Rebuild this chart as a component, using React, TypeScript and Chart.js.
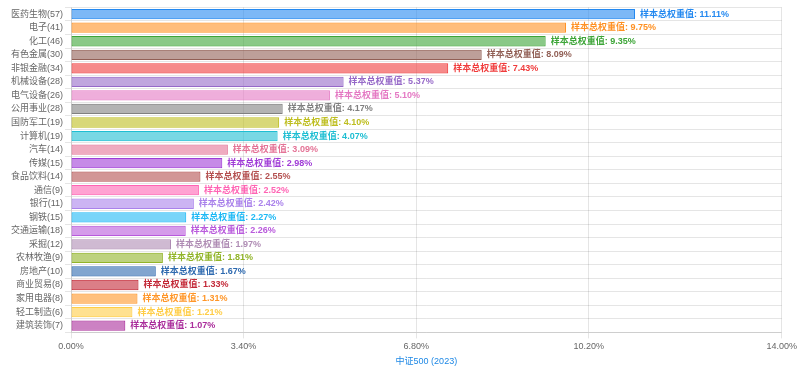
import React, { useEffect, useRef } from "react";
import { Chart, registerables } from "chart.js";

Chart.register(...registerables);

const categories = [
  "医药生物(57)", "电子(41)", "化工(46)", "有色金属(30)", "非银金融(34)", "机械设备(28)",
  "电气设备(26)", "公用事业(28)", "国防军工(19)", "计算机(19)", "汽车(14)", "传媒(15)",
  "食品饮料(14)", "通信(9)", "银行(11)", "钢铁(15)", "交通运输(18)", "采掘(12)",
  "农林牧渔(9)", "房地产(10)", "商业贸易(8)", "家用电器(8)", "轻工制造(6)", "建筑装饰(7)",
];

const weights = [
  11.11, 9.75, 9.35, 8.09, 7.43, 5.37, 5.1, 4.17, 4.1, 4.07, 3.09, 2.98,
  2.55, 2.52, 2.42, 2.27, 2.26, 1.97, 1.81, 1.67, 1.33, 1.31, 1.21, 1.07,
];

const baseColors: [number, number, number][] = [
  [36, 137, 240], [255, 145, 35], [60, 165, 55], [145, 95, 85], [240, 60, 60], [150, 105, 200],
  [228, 120, 195], [128, 128, 128], [190, 190, 30], [30, 190, 210], [228, 115, 150], [160, 60, 215],
  [180, 80, 80], [255, 100, 180], [170, 130, 235], [30, 185, 245], [185, 90, 220], [175, 140, 180],
  [145, 180, 40], [45, 105, 175], [195, 40, 55], [255, 150, 40], [255, 205, 70], [170, 45, 155],
];

const xTicks = [0, 3.4, 6.8, 10.2, 14];
const axisTitle = "中证500 (2023)";
const labelPrefix = "样本总权重值: ";

const FONT = "'Liberation Sans', 'Noto Sans CJK SC', sans-serif";

const rgba = (c: [number, number, number], a: number) => `rgba(${c[0]},${c[1]},${c[2]},${a})`;

const valueLabels = {
  id: "valueLabels",
  afterDatasetsDraw(chart: any) {
    const ctx = chart.ctx;
    const meta = chart.getDatasetMeta(0);
    ctx.save();
    ctx.font = `bold 9px ${FONT}`;
    ctx.textBaseline = "middle";
    ctx.textAlign = "left";
    meta.data.forEach((bar: any, i: number) => {
      ctx.fillStyle = rgba(baseColors[i], 1);
      ctx.fillText(labelPrefix + weights[i].toFixed(2) + "%", bar.x + 5, bar.y);
    });
    ctx.restore();
  },
};

export default function App() {
  const ref = useRef<HTMLCanvasElement>(null);
  useEffect(() => {
    if (!ref.current) return;
    const chart = new Chart(ref.current, {
      type: "bar",
      data: {
        labels: categories,
        datasets: [
          {
            data: weights,
            backgroundColor: baseColors.map((c) => rgba(c, 0.6)),
            borderColor: baseColors.map((c) => rgba(c, 1)),
            borderWidth: 1,
            borderSkipped: false,
            barPercentage: 0.8,
            categoryPercentage: 0.95,
          },
        ],
      },
      options: {
        indexAxis: "y",
        animation: false,
        responsive: true,
        maintainAspectRatio: false,
        layout: { padding: { top: 1, right: 4, left: 9, bottom: 4 } },
        plugins: { legend: { display: false }, tooltip: { enabled: false } },
        scales: {
          x: {
            min: 0,
            max: 14,
            afterBuildTicks: (scale: any) => {
              scale.ticks = xTicks.map((v) => ({ value: v }));
            },
            ticks: {
              color: "#666",
              font: { size: 9, family: FONT },
              callback: (v: any) => Number(v).toFixed(2) + "%",
              maxRotation: 0,
            },
            grid: { color: "rgba(0,0,0,0.1)", tickLength: 6 },
            title: {
              display: true,
              text: axisTitle,
              color: "#1e88e5",
              font: { size: 9, family: FONT },
              padding: { top: 1, bottom: 0 },
            },
          },
          y: {
            ticks: { color: "#666", font: { size: 9, family: FONT }, padding: 2, autoSkip: false },
            grid: { color: "rgba(0,0,0,0.1)", tickLength: 6 },
          },
        },
      },
      plugins: [valueLabels],
    });
    return () => chart.destroy();
  }, []);
  return (
    <div style={{ position: "fixed", left: 0, top: 0, width: 800, height: 371, background: "#fff" }}>
      <canvas ref={ref} />
    </div>
  );
}
